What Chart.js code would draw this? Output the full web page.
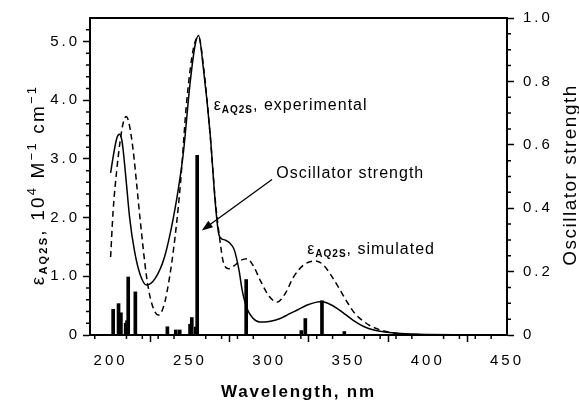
<!DOCTYPE html>
<html>
<head>
<meta charset="utf-8">
<script src="https://cdn.jsdelivr.net/npm/chart.js@4.4.0/dist/chart.umd.min.js"></script>
<style>
  html, body { margin: 0; padding: 0; background: #fff; }
  canvas { display: block; }
</style>
</head>
<body>
<canvas id="spectrum" width="579" height="401"></canvas>
<script>
// Experimental absorption spectrum (solid line), 10^4 M^-1 cm^-1
const expWavelength = [200, 202, 204, 205.5, 207, 208, 210, 212, 215, 218.5, 222.7, 228, 234, 239.6, 243.8, 246, 250, 253.3, 255.5, 258.5, 262.8, 265.9, 268, 270, 272, 275, 278, 281, 283, 286, 290, 294, 300, 307, 312, 318, 324, 330, 333, 337, 343, 348, 353, 360, 366, 373, 381, 390, 400, 420, 450];
const expEpsilon = [2.76, 3.10, 3.36, 3.42, 3.33, 3.13, 2.57, 2.0, 1.44, 1.04, 0.85, 0.96, 1.33, 2.0, 2.68, 3.13, 4.26, 4.94, 5.10, 4.54, 3.42, 2.29, 1.75, 1.64, 1.62, 1.57, 1.45, 1.10, 0.76, 0.45, 0.28, 0.22, 0.23, 0.28, 0.35, 0.43, 0.51, 0.56, 0.57, 0.54, 0.45, 0.35, 0.25, 0.14, 0.085, 0.05, 0.03, 0.015, 0.008, 0.003, 0];

// Simulated spectrum (dashed line)
const simWavelength = [200, 201.6, 203.8, 206, 208, 209.7, 211.5, 214.3, 216.5, 218.5, 222.7, 225.9, 230.1, 233, 235.4, 239.6, 243.8, 248, 252.2, 255.5, 258.5, 262.8, 266, 269, 271, 274.4, 278, 282, 286, 290, 294.4, 300, 304.9, 310, 315.4, 322, 329, 334, 338.5, 344, 349.2, 354, 359.7, 365, 370.2, 377, 383, 390, 400, 410];
const simEpsilon = [1.33, 2.12, 2.79, 3.30, 3.62, 3.72, 3.62, 3.13, 2.55, 2.0, 0.99, 0.54, 0.34, 0.45, 0.71, 1.44, 2.5, 3.98, 4.88, 5.08, 4.6, 3.4, 2.3, 1.6, 1.25, 1.13, 1.18, 1.27, 1.30, 1.18, 0.93, 0.66, 0.56, 0.70, 0.99, 1.20, 1.26, 1.20, 1.04, 0.80, 0.56, 0.37, 0.23, 0.14, 0.085, 0.04, 0.02, 0.01, 0.005, 0.002];

// Computed transitions (sticks), oscillator strength
const stickWavelength = [201.6, 205.0, 206.5, 209.5, 210.3, 211.1, 215.6, 235.8, 241.1, 243.6, 250.1, 251.2, 253.7, 254.6, 285.5, 320.3, 322.8, 333.3, 347.4];
const stickStrength = [0.081, 0.099, 0.070, 0.037, 0.045, 0.183, 0.136, 0.026, 0.016, 0.016, 0.034, 0.055, 0.025, 0.567, 0.175, 0.014, 0.052, 0.108, 0.011];

const xMajorTicks = [200, 250, 300, 350, 400, 450];
const xMinorTicks = [190, 210, 220, 230, 240, 260, 270, 280, 290, 310, 320, 330, 340, 360, 370, 380, 390, 410, 420, 430, 440];
const yMajorTicks = [0, 1, 2, 3, 4, 5];
const yMinorTicks = [0.2, 0.4, 0.6, 0.8, 1.2, 1.4, 1.6, 1.8, 2.2, 2.4, 2.6, 2.8, 3.2, 3.4, 3.6, 3.8, 4.2, 4.4, 4.6, 4.8, 5.2];
const fMajorTicks = [0, 0.2, 0.4, 0.6, 0.8, 1.0];
const fMinorTicks = [0.05, 0.1, 0.15, 0.25, 0.3, 0.35, 0.45, 0.5, 0.55, 0.65, 0.7, 0.75, 0.85, 0.9, 0.95];

const FONT = '"Liberation Sans", Arial, Helvetica, sans-serif';

const pairs = (xs, ys) => xs.map((x, i) => ({ x: x, y: ys[i] }));
const fmt = (v) => (v === 0 ? '0' : v.toFixed(1));

/**
 * Draw a run of text pieces (with sub/superscripts) starting at x
 */
function drawRich(ctx, parts, x, y, align, spacing) {
  ctx.letterSpacing = spacing + 'px';
  let width = 0;
  parts.forEach((p) => {
    ctx.font = (p.bold ? 'bold ' : '') + p.size + 'px ' + FONT;
    p.w = ctx.measureText(p.t).width;
    width += p.w;
  });
  let cx = align === 'center' ? x - width / 2 : x;
  ctx.textAlign = 'left';
  ctx.textBaseline = 'alphabetic';
  parts.forEach((p) => {
    ctx.font = (p.bold ? 'bold ' : '') + p.size + 'px ' + FONT;
    ctx.fillText(p.t, cx, y + (p.dy || 0));
    cx += p.w;
  });
}

// Minor ticks, top frame, axis titles and annotations
const decorPlugin = {
  id: 'decor',
  beforeDraw(chart) {
    chart.ctx.letterSpacing = '3px';
  },
  afterDraw(chart) {
    const ctx = chart.ctx;
    const area = chart.chartArea;
    const x = chart.scales.x;
    const y = chart.scales.y;
    const yf = chart.scales.yf;

    ctx.save();
    ctx.strokeStyle = '#000';
    ctx.fillStyle = '#000';

    // top frame line
    ctx.lineWidth = 2;
    ctx.beginPath();
    ctx.moveTo(area.left - 1, area.top);
    ctx.lineTo(area.right + 1, area.top);
    ctx.stroke();

    // minor ticks
    ctx.lineWidth = 1.5;
    ctx.beginPath();
    xMinorTicks.forEach((v) => {
      const px = x.getPixelForValue(v);
      ctx.moveTo(px, area.bottom);
      ctx.lineTo(px, area.bottom + 4);
    });
    yMinorTicks.forEach((v) => {
      const py = y.getPixelForValue(v);
      ctx.moveTo(area.left, py);
      ctx.lineTo(area.left - 4, py);
    });
    fMinorTicks.forEach((v) => {
      const py = yf.getPixelForValue(v);
      ctx.moveTo(area.right, py);
      ctx.lineTo(area.right + 4, py);
    });
    ctx.stroke();

    // x axis title
    drawRich(ctx, [{ t: 'Wavelength, nm', size: 17, bold: true }], (area.left + area.right) / 2, 397, 'center', 1.8);

    // left axis title (rotated)
    ctx.save();
    ctx.translate(43.5, 185);
    ctx.rotate(-Math.PI / 2);
    drawRich(ctx, [
      { t: '\u03b5', size: 19 },
      { t: 'AQ2S', size: 11, bold: true, dy: 3 },
      { t: ', 10', size: 19 },
      { t: '4', size: 13, dy: -8 },
      { t: ' M', size: 19 },
      { t: '\u22121', size: 13, dy: -8 },
      { t: ' cm', size: 19 },
      { t: '\u22121', size: 13, dy: -8 },
    ], 0, 0, 'center', 2.2);
    ctx.restore();

    // right axis title (rotated)
    ctx.save();
    ctx.translate(576, 175);
    ctx.rotate(-Math.PI / 2);
    drawRich(ctx, [{ t: 'Oscillator strength', size: 19 }], 0, 0, 'center', 1.5);
    ctx.restore();

    // annotations anchored in data space
    drawRich(ctx, [
      { t: '\u03b5', size: 16 },
      { t: 'AQ2S', size: 10, bold: true, dy: 3 },
      { t: ', experimental', size: 16 },
    ], x.getPixelForValue(265), y.getPixelForValue(3.83), 'left', 1);

    drawRich(ctx, [{ t: 'Oscillator strength', size: 16 }], x.getPixelForValue(304.5), y.getPixelForValue(2.67), 'left', 1);

    drawRich(ctx, [
      { t: '\u03b5', size: 16 },
      { t: 'AQ2S', size: 10, bold: true, dy: 3 },
      { t: ', simulated', size: 16 },
    ], x.getPixelForValue(324), y.getPixelForValue(1.38), 'left', 1);

    // arrow towards the strongest stick
    const ax0 = x.getPixelForValue(301.8);
    const ay0 = y.getPixelForValue(2.65);
    const ax1 = x.getPixelForValue(257.5);
    const ay1 = y.getPixelForValue(1.78);
    const ang = Math.atan2(ay1 - ay0, ax1 - ax0);
    ctx.lineWidth = 1.3;
    ctx.beginPath();
    ctx.moveTo(ax0, ay0);
    ctx.lineTo(ax1 - 6 * Math.cos(ang), ay1 - 6 * Math.sin(ang));
    ctx.stroke();
    ctx.beginPath();
    ctx.moveTo(ax1, ay1);
    ctx.lineTo(ax1 - 11 * Math.cos(ang) + 4 * Math.sin(ang), ay1 - 11 * Math.sin(ang) - 4 * Math.cos(ang));
    ctx.lineTo(ax1 - 11 * Math.cos(ang) - 4 * Math.sin(ang), ay1 - 11 * Math.sin(ang) + 4 * Math.cos(ang));
    ctx.closePath();
    ctx.fill();

    ctx.restore();
    ctx.letterSpacing = '0px';
  },
};

const tickFont = { family: FONT, size: 15 };

new Chart(document.getElementById('spectrum'), {
  type: 'line',
  data: {
    datasets: [
      {
        type: 'bar',
        data: pairs(stickWavelength, stickStrength),
        yAxisID: 'yf',
        backgroundColor: '#000',
        borderWidth: 0,
        barThickness: 3,
        order: 3,
      },
      {
        data: pairs(expWavelength, expEpsilon),
        yAxisID: 'y',
        borderColor: '#000',
        borderWidth: 1.5,
        pointRadius: 0,
        cubicInterpolationMode: 'monotone',
        fill: false,
        order: 1,
      },
      {
        data: pairs(simWavelength, simEpsilon),
        yAxisID: 'y',
        borderColor: '#000',
        borderWidth: 1.5,
        borderDash: [6, 4],
        pointRadius: 0,
        cubicInterpolationMode: 'monotone',
        fill: false,
        order: 2,
      },
    ],
  },
  options: {
    responsive: false,
    animation: false,
    devicePixelRatio: 1,
    layout: { padding: { top: 16, left: 0, right: 0, bottom: 0 } },
    plugins: {
      legend: { display: false },
      tooltip: { enabled: false },
    },
    scales: {
      x: {
        type: 'linear',
        min: 187,
        max: 450,
        offset: false,
        afterBuildTicks: (s) => {
          s.ticks = xMajorTicks.map((v) => ({ value: v }));
        },
        afterFit: (s) => {
          s.height = 66;
        },
        grid: { drawOnChartArea: false, tickLength: 7, tickWidth: 1.5, tickColor: '#000' },
        border: { color: '#000', width: 2 },
        ticks: { color: '#000', font: tickFont, padding: 10, maxRotation: 0, autoSkip: false },
      },
      y: {
        position: 'left',
        min: 0,
        max: 5.4,
        afterBuildTicks: (s) => {
          s.ticks = yMajorTicks.map((v) => ({ value: v }));
        },
        afterFit: (s) => {
          s.width = 90;
        },
        grid: { drawOnChartArea: false, tickLength: 7, tickWidth: 1.5, tickColor: '#000' },
        border: { color: '#000', width: 2 },
        ticks: { color: '#000', font: tickFont, padding: 3, callback: fmt, autoSkip: false },
      },
      yf: {
        position: 'right',
        min: 0,
        max: 1.0,
        afterBuildTicks: (s) => {
          s.ticks = fMajorTicks.map((v) => ({ value: v }));
        },
        afterFit: (s) => {
          s.width = 72;
        },
        grid: { drawOnChartArea: false, tickLength: 7, tickWidth: 1.5, tickColor: '#000' },
        border: { color: '#000', width: 2 },
        ticks: { color: '#000', font: tickFont, padding: 9, callback: fmt, autoSkip: false },
      },
    },
  },
  plugins: [decorPlugin],
});
</script>
</body>
</html>
